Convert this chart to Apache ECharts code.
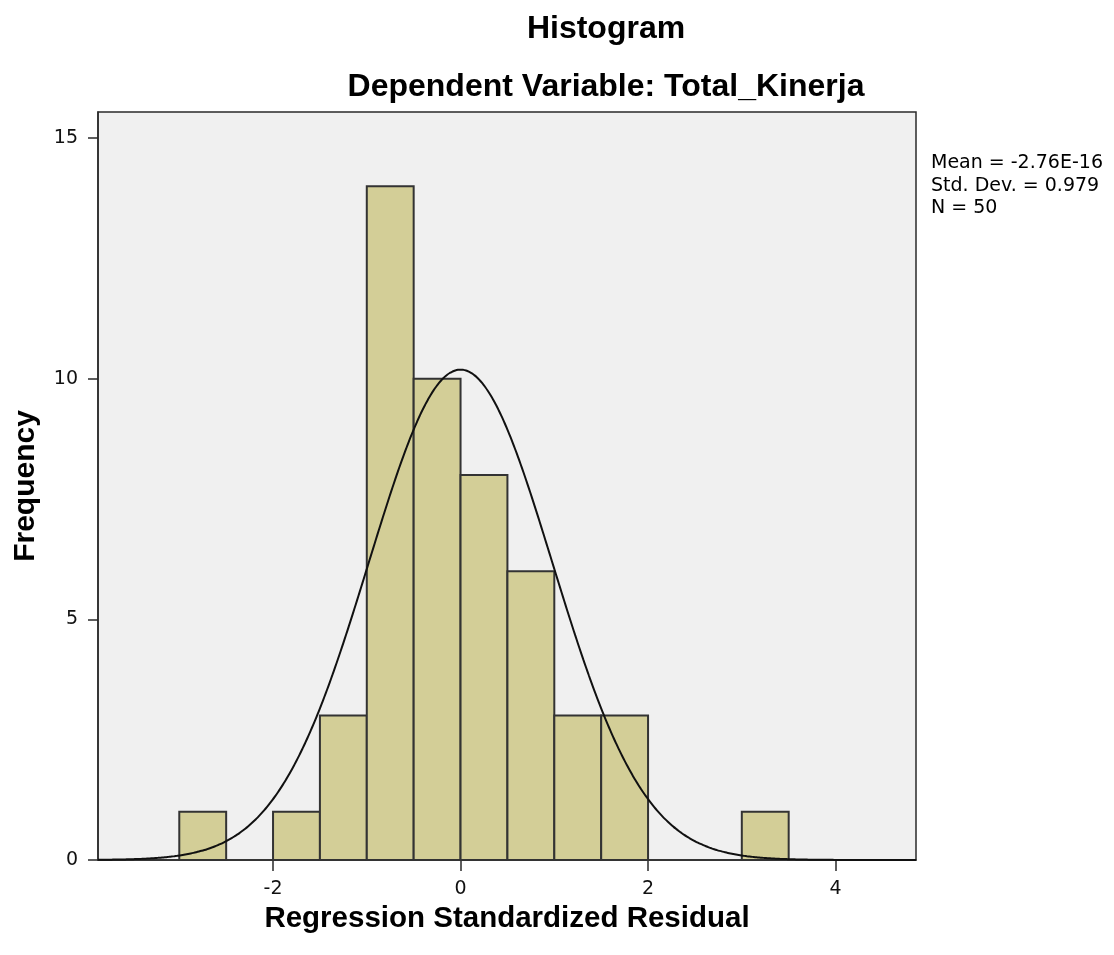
<!DOCTYPE html>
<html>
<head>
<meta charset="utf-8">
<title>Histogram</title>
<script src="https://cdn.jsdelivr.net/npm/echarts@6/dist/echarts.min.js"></script>
<style>
  html, body { margin: 0; padding: 0; background: #fff; }
  #chart { width: 1114px; height: 955px; }
</style>
</head>
<body>
<div id="chart"></div>
<script>
// bins (left edge) and frequencies, bin width 0.5
const binStarts = [-3, -2, -1.5, -1, -0.5, 0, 0.5, 1, 1.5, 3];
const binCounts = [1, 1, 3, 14, 10, 8, 6, 3, 3, 1];
const binWidth = 0.5;

// stats shown in the legend box
const meanVal = -2.76e-16;
const sdVal = 0.979;
const nVal = 50;
const statLines = ['Mean = -2.76E-16', 'Std. Dev. = 0.979', 'N = 50'];

const xTicks = [-2, 0, 2, 4];
const xMin = -3.867, xMax = 4.858;

// fitted normal curve scaled to counts (N * bin width * density)
let curve = [];
for (let i = 0; i <= 300; i++) {
    let x = xMin + (xMax - xMin) * i / 300;
    let z = (x - meanVal) / sdVal;
    let y = nVal * binWidth * Math.exp(-0.5 * z * z) / (sdVal * Math.sqrt(2 * Math.PI));
    curve.push([x, y]);
}

const bars = binStarts.map((s, i) => [s, s + binWidth, binCounts[i]]);

const font = 'Liberation Sans, Arial, sans-serif';
const smallFont = 'DejaVu Sans, sans-serif';
let ec = echarts.init(document.getElementById('chart'));

ec.setOption({
    animation: false,
    grid: {
        left: 98, right: 198, top: 112, bottom: 95,
        show: true,
        backgroundColor: '#f0f0f0',
        borderColor: '#2a2a2a',
        borderWidth: 1.5
    },
    graphic: [
        { type: 'text', x: 606, y: 29, style: { text: 'Histogram', font: 'bold 32px ' + font, fill: '#000', textAlign: 'center', textVerticalAlign: 'middle' } },
        { type: 'text', x: 606, y: 87, style: { text: 'Dependent Variable: Total_Kinerja', font: 'bold 32px ' + font, fill: '#000', textAlign: 'center', textVerticalAlign: 'middle' } },
        { type: 'text', x: 931, y: 152, style: { text: statLines.join('\n'), font: '19px ' + smallFont, lineHeight: 22.5, fill: '#000' } }
    ],
    xAxis: {
        type: 'value',
        min: xMin, max: xMax,
        name: 'Regression Standardized Residual',
        nameLocation: 'middle',
        nameGap: 32,
        nameTextStyle: { fontFamily: font, fontWeight: 'bold', fontSize: 29.5, color: '#000' },
        axisLine: { show: true, onZero: false, lineStyle: { color: '#2a2a2a', width: 1.5 } },
        axisTick: { show: true, length: 11, customValues: xTicks, lineStyle: { color: '#2a2a2a', width: 1.5 } },
        axisLabel: { customValues: xTicks, fontFamily: smallFont, fontSize: 19, color: '#111', margin: 20 },
        splitLine: { show: false }
    },
    yAxis: {
        type: 'value',
        min: 0, max: 15.54, interval: 5,
        name: 'Frequency',
        nameLocation: 'middle',
        nameGap: 57,
        nameRotate: 90,
        nameTextStyle: { fontFamily: font, fontWeight: 'bold', fontSize: 30, color: '#000' },
        axisLine: { show: true, onZero: false, lineStyle: { color: '#2a2a2a', width: 1.5 } },
        axisTick: { show: true, length: 10, lineStyle: { color: '#2a2a2a', width: 1.5 } },
        axisLabel: { fontFamily: smallFont, fontSize: 19, color: '#111', margin: 20, showMaxLabel: false },
        splitLine: { show: false }
    },
    series: [
        {
            type: 'custom',
            data: bars,
            renderItem: function (params, api) {
                let p0 = api.coord([api.value(0), 0]);
                let p1 = api.coord([api.value(1), api.value(2)]);
                return {
                    type: 'rect',
                    shape: { x: p0[0], y: p1[1], width: p1[0] - p0[0], height: p0[1] - p1[1] },
                    style: { fill: '#d3ce97', stroke: '#333', lineWidth: 2 }
                };
            },
            encode: { x: [0, 1], y: 2 }
        },
        {
            type: 'line',
            data: curve,
            showSymbol: false,
            smooth: true,
            lineStyle: { color: '#111', width: 2 },
            z: 5
        }
    ]
});
</script>
</body>
</html>
